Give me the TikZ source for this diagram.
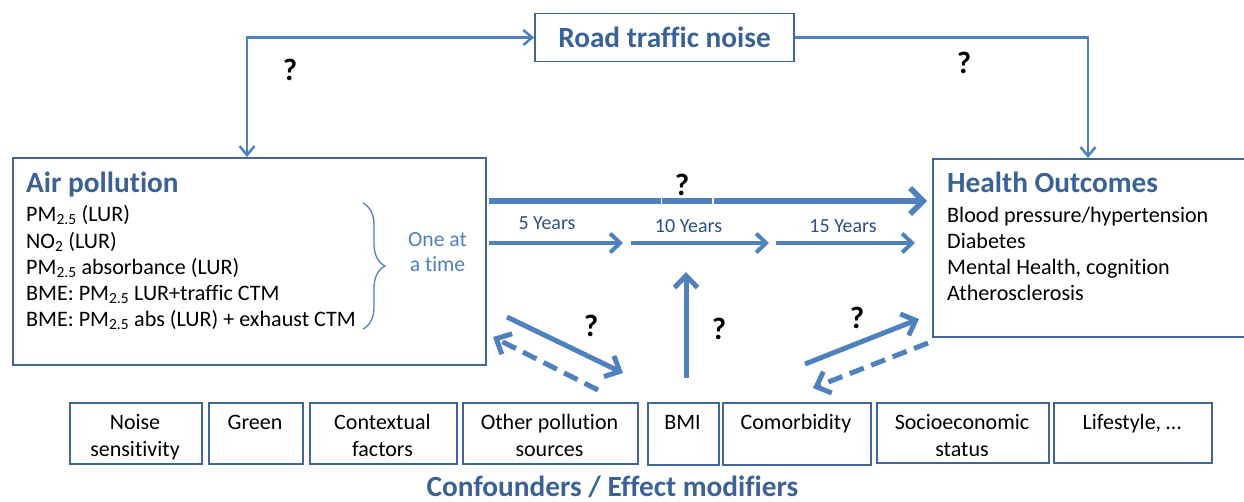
\documentclass[tikz,border=0pt]{standalone}
\usepackage{fontspec}
\setmainfont{Carlito}[Ligatures=NoCommon]
\usetikzlibrary{arrows.meta,decorations.pathreplacing}
\definecolor{lineblue}{HTML}{4F81BD}
\definecolor{boxblue}{HTML}{3F6698}
\definecolor{headblue}{HTML}{3A6297}
\definecolor{yearblue}{HTML}{2B5081}
\newcommand\fsz[2]{\fontsize{#1}{#2}\selectfont}
\begin{document}
\begin{tikzpicture}[x=1pt,y=-1pt,
  box/.style={draw=boxblue, line width=1.6pt, anchor=north west, inner sep=0pt},
  head/.style={font=\fsz{29.3}{33}\bfseries, text=headblue, inner sep=0pt},
  body/.style={font=\fsz{22.1}{26}, text=black, inner sep=0pt, anchor=base west},
  small/.style={font=\fsz{22}{26.5}, text=black, inner sep=0pt, align=center, anchor=north},
  qmark/.style={font=\fsz{31}{34}\bfseries, text=black, inner sep=0pt},
  year/.style={font=\fsz{20}{24}, text=yearblue, inner sep=0pt, anchor=base},
  thinarr/.style={draw=lineblue, line width=2.5pt, line join=miter},
  tip/.style={-{Straight Barb[length=9pt,width=15pt]}},
  bigarr/.style={draw=lineblue, line width=5.5pt, -{Straight Barb[length=13pt,width=26pt]}},
  midarr/.style={draw=lineblue, line width=4pt, -{Straight Barb[length=10pt,width=19pt]}},
  diagarr/.style={draw=lineblue, line width=5pt, -{Straight Barb[length=12pt,width=23pt]}},
  dasharr/.style={diagarr, dash pattern=on 15pt off 8pt}
]
\useasboundingbox (0,0) rectangle (1244,501);
\clip (0,0) rectangle (1244,501);

% Road traffic noise
\node[draw=boxblue, line width=1.6pt, minimum width=259pt, minimum height=48pt, inner sep=0pt,
      font=\fsz{29.3}{33}\bfseries, text=headblue] (rtn) at (664.5,37.5) {Road traffic noise};

% Air pollution box
\node[box, minimum width=473pt, minimum height=207pt] (ap) at (12,157) {};
\node[head, anchor=base west] (apt) at (26,192.3) {Air pollution};
\node[body] (l1) at (26,221.7) {PM\textsubscript{2.5} (LUR)};
\node[body] (l2) at (26,248) {NO\textsubscript{2} (LUR)};
\node[body] (l3) at (26,274) {PM\textsubscript{2.5} absorbance (LUR)};
\node[body] (l4) at (26,300) {BME: PM\textsubscript{2.5} LUR+traffic CTM};
\node[body] (l5) at (26,326) {BME: PM\textsubscript{2.5} abs (LUR) + exhaust CTM};
\coordinate (bt) at (363,203);
\coordinate (bb) at (363,329);
\draw[lineblue, line width=1.3pt, decorate, decoration={brace, amplitude=22pt}] (bt) -- (bb);
\node[font=\fsz{21.6}{25}, text=lineblue, inner sep=0pt, align=center, anchor=north] (oat) at (437.5,228.5) {\strut One at\\a time};

% Health outcomes box
\node[box, minimum width=314pt, minimum height=178pt] (ho) at (932,158) {};
\node[head, anchor=base west] (hot) at (947,192.7) {Health Outcomes};
\node[body] (h1) at (947,222.3) {Blood pressure/hypertension};
\node[body] (h2) at (947,248.5) {Diabetes};
\node[body] (h3) at (947,274.7) {Mental Health, cognition};
\node[body] (h4) at (947,300.9) {Atherosclerosis};

% Top connectors
\coordinate (c1) at (247,37.5);
\coordinate (c2) at (1088,37.5);
\draw[thinarr, {Straight Barb[length=9pt,width=15pt]}-{Straight Barb[length=9pt,width=15pt]}] (rtn.west) -- (c1) -- (c1 |- ap.north);
\draw[thinarr, tip] (rtn.east) -- (c2) -- (c2 |- ho.north);
\node[qmark] (q1) at (290,70) {?};
\node[qmark] (q2) at (964,63) {?};

% Direct thick arrow
\coordinate (ya) at (0,201);
\draw[bigarr, shorten <=2pt, shorten >=5pt] (ap.east |- ya) -- (ho.west |- ya);
\draw[white, line width=1.5pt] (661.5,196) -- (661.5,206) (713,196) -- (713,206);
\node[qmark] (q3) at (682,185) {?};

% Time arrows
\coordinate (yb) at (0,243);
\coordinate (t1) at (623,243);
\coordinate (t2) at (631,243);
\coordinate (t3) at (769,243);
\coordinate (t4) at (776,243);
\coordinate (t5) at (915,243);
\draw[midarr, shorten <=2pt] (ap.east |- yb) -- (t1);
\draw[midarr] (t2) -- (t3);
\draw[midarr] (t4) -- (t5);
\node[year] (y5) at (547,229) {5 Years};
\node[year] (y10) at (688.5,232.3) {10 Years};
\node[year] (y15) at (843,232) {15 Years};

% Bottom boxes
\node[box, minimum width=132pt, minimum height=61pt] (b1) at (69,402) {};
\node[box, minimum width=94pt, minimum height=61pt] (b2) at (208,402) {};
\node[box, minimum width=147pt, minimum height=61pt] (b3) at (309,402) {};
\node[box, minimum width=175pt, minimum height=61pt] (b4) at (462,402) {};
\node[box, minimum width=71pt, minimum height=62pt] (b5) at (647,402) {};
\node[box, minimum width=148pt, minimum height=62pt] (b6) at (722,402) {};
\node[box, minimum width=172pt, minimum height=60pt] (b7) at (876,402) {};
\node[box, minimum width=158pt, minimum height=60pt] (b8) at (1053,402) {};
\node[small] (b1t) at (135,411) {\strut Noise\\sensitivity};
\node[small] (b2t) at (255,411) {\strut Green};
\node[small] (b3t) at (382.5,411) {\strut Contextual\\factors};
\node[small] (b4t) at (549.5,411) {\strut Other pollution\\sources};
\node[small] (b5t) at (682.5,411) {\strut BMI};
\node[small] (b6t) at (796,411) {\strut Comorbidity};
\node[small] (b7t) at (962,411) {\strut Socioeconomic\\status};
\node[small] (b8t) at (1132,411) {\strut Lifestyle, …};
\node[head, anchor=base] (conf) at (612.5,496) {Confounders / Effect modifiers};

% Confounder arrows
\coordinate (d1s) at (507,317);
\coordinate (d1e) at (623,373);
\coordinate (d2s) at (598,390);
\coordinate (d2e) at (493,337);
\coordinate (vs) at (686,378);
\coordinate (ve) at (686,272);
\coordinate (d3s) at (805,364);
\coordinate (d3e) at (919,319);
\coordinate (d4s) at (928,343);
\coordinate (d4e) at (813,388);
\draw[diagarr] (d1s) -- (d1e);
\draw[dasharr] (d2s) -- (d2e);
\draw[diagarr] (vs) -- (ve);
\draw[diagarr] (d3s) -- (d3e);
\draw[dasharr] (d4s) -- (d4e);
\node[qmark] (q4) at (591,326) {?};
\node[qmark] (q5) at (719,329) {?};
\node[qmark] (q6) at (857,318) {?};
\end{tikzpicture}
\end{document}
